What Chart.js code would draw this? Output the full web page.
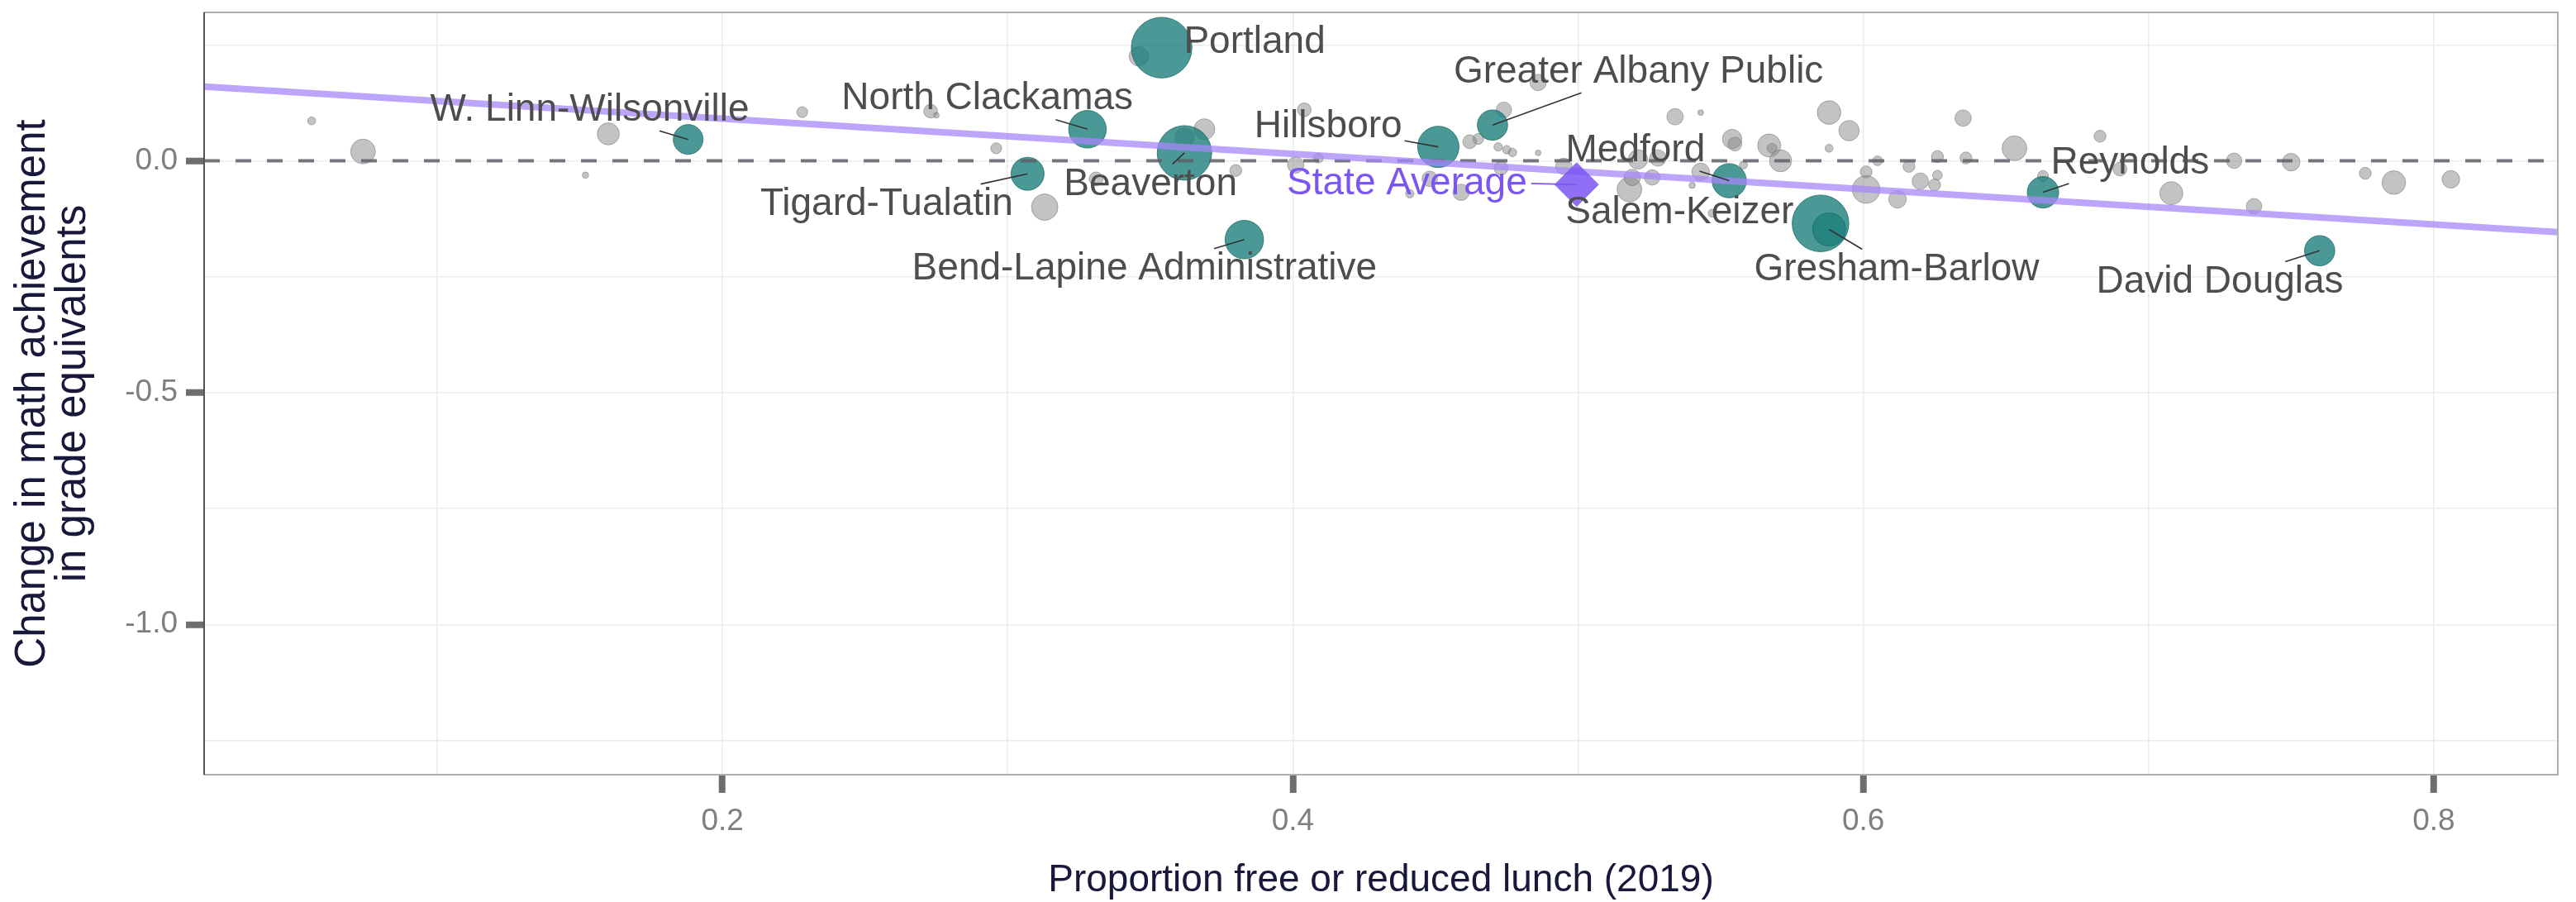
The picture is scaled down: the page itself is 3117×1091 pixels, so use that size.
<!DOCTYPE html>
<html>
<head>
<meta charset="utf-8">
<script src="https://cdn.jsdelivr.net/npm/chart.js@4.4.1/dist/chart.umd.min.js"></script>
<style>
  html, body { margin: 0; padding: 0; background: #fff; }
  #wrap { width: 3117px; height: 1091px; }
</style>
</head>
<body>
<div id="wrap"><canvas id="lunchChart" width="3117" height="1091"></canvas></div>
<script>
// axis limits
const xMin = 0.0183, xMax = 0.8435;
const yMin = -1.324, yMax = 0.320;

// other districts (gray)
const otherFrl = [0.056, 0.074, 0.160, 0.152, 0.228, 0.273, 0.275, 0.296, 0.313, 0.346,
  0.362, 0.369, 0.380, 0.331, 0.404, 0.401, 0.409, 0.448, 0.459, 0.441,
  0.462, 0.465, 0.486, 0.474, 0.472, 0.475, 0.477, 0.486, 0.473, 0.495,
  0.518, 0.519, 0.521, 0.526, 0.528, 0.534, 0.543, 0.543, 0.540, 0.547,
  0.554, 0.555, 0.558, 0.567, 0.568, 0.571, 0.588, 0.595, 0.588, 0.601,
  0.605, 0.601, 0.612, 0.616, 0.620, 0.626, 0.626, 0.625, 0.635, 0.636,
  0.653, 0.663, 0.683, 0.690, 0.708, 0.730, 0.737, 0.750, 0.776, 0.786, 0.806];
const otherChange = [0.086, 0.020, 0.058, -0.031, 0.105, 0.107, 0.098, 0.027, -0.100, 0.225,
  0.050, 0.068, -0.021, -0.039, 0.110, -0.009, 0.006, -0.039, -0.068, -0.071,
  0.041, 0.047, 0.169, 0.110, 0.030, 0.024, 0.018, 0.017, -0.016, -0.012,
  -0.062, -0.036, 0.003, -0.036, 0.006, 0.095, 0.104, -0.024, -0.053, -0.113,
  0.047, 0.036, -0.009, 0.033, 0.027, 0.000, 0.104, 0.065, 0.027, -0.024,
  0.000, -0.062, -0.083, -0.012, -0.044, 0.009, -0.031, -0.052, 0.092, 0.006,
  0.027, -0.033, 0.053, -0.018, -0.070, 0.000, -0.098, -0.003, -0.027, -0.047, -0.040];
// enrollment, thousands
const otherEnroll = [0.8, 7.7, 6.1, 0.5, 1.5, 2.4, 0.4, 1.5, 8.8, 4.7,
  4.7, 5.5, 1.8, 2.4, 2.4, 3.4, 1.2, 3.0, 3.4, 0.9,
  2.4, 1.5, 3.4, 3.0, 0.9, 0.9, 0.9, 0.4, 2.4, 3.4,
  7.7, 3.4, 4.7, 3.0, 3.4, 3.4, 0.4, 3.9, 0.5, 0.8,
  4.7, 2.4, 0.8, 6.7, 1.2, 6.1, 7.0, 5.2, 0.8, 1.8,
  1.2, 9.6, 3.9, 1.8, 3.4, 1.8, 1.2, 1.8, 3.4, 1.8,
  7.7, 1.5, 1.8, 2.4, 6.7, 3.0, 3.0, 3.9, 1.8, 7.0, 3.9];

// named districts (teal)
const districts = ['W. Linn-Wilsonville', 'Tigard-Tualatin', 'North Clackamas', 'Portland', 'Beaverton',
  'Bend-Lapine Administrative', 'Hillsboro', 'Greater Albany Public', 'Medford', 'Salem-Keizer',
  'Gresham-Barlow', 'Reynolds', 'David Douglas'];
const districtFrl = [0.188, 0.307, 0.328, 0.354, 0.362, 0.383, 0.451, 0.470, 0.553, 0.585, 0.588, 0.663, 0.760];
const districtChange = [0.046, -0.028, 0.068, 0.244, 0.017, -0.170, 0.030, 0.077, -0.043, -0.135, -0.148, -0.068, -0.194];
const districtEnroll = [11.1, 13.7, 17.7, 46.2, 37.3, 18.6, 21.4, 11.5, 14.7, 40.3, 13.7, 12.4, 11.5];
// where the repelled labels sit (data units)
const labelFrl = [0.1535, 0.2576, 0.2929, 0.3866, 0.3501, 0.348, 0.4124, 0.5212, 0.5201, 0.5356, 0.6117, 0.6935, 0.725];
const labelChange = [0.109, -0.0948, 0.1333, 0.2547, -0.0515, -0.234, 0.0729, 0.191, 0.0222, -0.1125, -0.2355, -0.0044, -0.262];
const noSegment = ['Portland', 'Salem-Keizer'];

// state average
const stateFrl = 0.4995, stateChange = -0.0515;
const stateLabelFrl = 0.44, stateLabelChange = -0.0489;

// linear fit
const fitX = [xMin, xMax];
const fitY = [0.160, -0.154];

const FONT = '"Liberation Sans", Arial, Helvetica, sans-serif';
const rad = e => 5.4 * Math.sqrt(e);
const isHalf = v => Math.abs(v * 2 - Math.round(v * 2)) < 1e-6;
const isFifth = v => Math.abs(v * 5 - Math.round(v * 5)) < 1e-6;

// point on label box edge, on the line towards the point
function boxEdge(lx, ly, px, py, hw, hh) {
    const dx = px - lx, dy = py - ly;
    const t = Math.min(dx ? hw / Math.abs(dx) : Infinity, dy ? hh / Math.abs(dy) : Infinity);
    return [lx + dx * t, ly + dy * t];
}

const labelPlugin = {
    id: 'districtLabels',
    afterDatasetsDraw(chart) {
        const { ctx, scales: { x, y } } = chart;
        ctx.save();
        ctx.font = '46px ' + FONT;
        ctx.textAlign = 'center';
        ctx.textBaseline = 'middle';
        ctx.lineWidth = 1.6;
        districts.forEach((name, i) => {
            const px = x.getPixelForValue(districtFrl[i]);
            const py = y.getPixelForValue(districtChange[i]);
            const lx = x.getPixelForValue(labelFrl[i]);
            const ly = y.getPixelForValue(labelChange[i]);
            if (!noSegment.includes(name)) {
                const hw = ctx.measureText(name).width / 2 + 3;
                const [sx, sy] = boxEdge(lx, ly, px, py, hw, 25);
                ctx.strokeStyle = '#333333';
                ctx.beginPath();
                ctx.moveTo(sx, sy);
                ctx.lineTo(px, py);
                ctx.stroke();
            }
            ctx.fillStyle = '#4d4d4d';
            ctx.fillText(name, lx, ly);
        });

        // state average label
        const spx = x.getPixelForValue(stateFrl), spy = y.getPixelForValue(stateChange);
        const slx = x.getPixelForValue(stateLabelFrl), sly = y.getPixelForValue(stateLabelChange);
        const shw = ctx.measureText('State Average').width / 2 + 5;
        ctx.strokeStyle = '#7b55f2';
        ctx.beginPath();
        ctx.moveTo(slx + shw, sly);
        ctx.lineTo(spx, spy);
        ctx.stroke();
        ctx.fillStyle = '#7b55f2';
        ctx.fillText('State Average', slx, sly);

        // panel border
        const a = chart.chartArea;
        ctx.lineWidth = 2;
        ctx.strokeStyle = '#b0b0b0';
        ctx.strokeRect(a.left, a.top, a.right - a.left, a.bottom - a.top);
        ctx.strokeStyle = '#555555';
        ctx.beginPath();
        ctx.moveTo(a.left, a.top);
        ctx.lineTo(a.left, a.bottom);
        ctx.stroke();
        ctx.restore();
    }
};

new Chart(document.getElementById('lunchChart'), {
    type: 'bubble',
    data: {
        datasets: [{
            label: 'State Average',
            data: [{ x: stateFrl, y: stateChange, r: 27 }],
            pointStyle: 'rectRot',
            backgroundColor: 'rgba(125, 85, 245, 0.85)',
            borderWidth: 0,
            order: 0
        }, {
            type: 'line',
            label: 'Fit',
            data: fitX.map((v, i) => ({ x: v, y: fitY[i] })),
            borderColor: 'rgba(165, 135, 250, 0.75)',
            borderWidth: 8,
            pointRadius: 0,
            order: 1
        }, {
            type: 'line',
            label: 'Zero',
            data: [{ x: xMin, y: 0 }, { x: xMax, y: 0 }],
            borderColor: 'rgba(95, 95, 105, 0.85)',
            borderWidth: 4,
            borderDash: [19, 19],
            pointRadius: 0,
            order: 2
        }, {
            label: 'Districts',
            data: districts.map((n, i) => ({ x: districtFrl[i], y: districtChange[i], r: rad(districtEnroll[i]) })),
            backgroundColor: 'rgba(30, 128, 124, 0.8)',
            borderColor: 'rgba(25, 105, 100, 0.8)',
            borderWidth: 1,
            order: 3
        }, {
            label: 'Other districts',
            data: otherFrl.map((v, i) => ({ x: v, y: otherChange[i], r: rad(otherEnroll[i]) })),
            backgroundColor: 'rgba(135, 135, 135, 0.5)',
            borderColor: 'rgba(110, 110, 110, 0.5)',
            borderWidth: 1,
            order: 4
        }]
    },
    options: {
        responsive: false,
        animation: false,
        devicePixelRatio: 1,
        layout: { autoPadding: false, padding: { top: 15, right: 22, left: 0, bottom: 0 } },
        plugins: {
            legend: { display: false },
            tooltip: { enabled: false }
        },
        scales: {
            x: {
                type: 'linear',
                min: xMin,
                max: xMax,
                afterFit: s => { s.height = 154; },
                border: { display: false },
                grid: {
                    color: '#ebebeb',
                    lineWidth: 1.5,
                    tickLength: 22,
                    tickWidth: 8,
                    tickColor: c => isFifth(c.tick.value) ? '#6e6e6e' : 'rgba(0,0,0,0)'
                },
                ticks: {
                    stepSize: 0.1,
                    includeBounds: false,
                    autoSkip: false,
                    maxRotation: 0,
                    padding: 13,
                    color: '#7f7f7f',
                    font: { family: FONT, size: 37, lineHeight: 1.2 },
                    callback: v => isFifth(v) ? v.toFixed(1) : ''
                },
                title: {
                    display: true,
                    text: 'Proportion free or reduced lunch (2019)',
                    color: '#17183a',
                    font: { family: FONT, size: 46, lineHeight: 1.07 },
                    padding: { top: 0, bottom: 1 }
                }
            },
            y: {
                type: 'linear',
                min: yMin,
                max: yMax,
                afterFit: s => { s.width = 247; },
                border: { display: false },
                grid: {
                    color: '#ebebeb',
                    lineWidth: 1.5,
                    tickLength: 22,
                    tickWidth: 8,
                    tickColor: c => isHalf(c.tick.value) ? '#6e6e6e' : 'rgba(0,0,0,0)'
                },
                ticks: {
                    stepSize: 0.25,
                    includeBounds: false,
                    autoSkip: false,
                    padding: 10,
                    color: '#7f7f7f',
                    // tiny line height so the blank top tick does not push the plot down
                    font: { family: FONT, size: 37, lineHeight: 0.05 },
                    callback: v => isHalf(v) ? (Math.abs(v) < 1e-9 ? 0 : v).toFixed(1) : ''
                },
                title: {
                    display: true,
                    text: ['Change in math achievement', 'in grade equivalents'],
                    color: '#17183a',
                    font: { family: FONT, size: 51, lineHeight: 0.96 },
                    padding: { top: 15, bottom: 0 }
                }
            }
        }
    },
    plugins: [labelPlugin]
});
</script>
</body>
</html>
